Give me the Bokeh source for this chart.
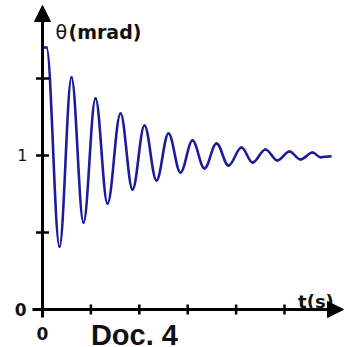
import numpy as np
from bokeh.plotting import figure
from bokeh.models import Arrow, NormalHead, Range1d, ColumnDataSource
from bokeh.core.properties import value
from bokeh.embed import file_html
from bokeh.resources import INLINE

# ---- data (t in tick units, theta in mrad) ----
t_ext = [0.000, 0.083, 0.351, 0.599, 0.847, 1.095, 1.343, 1.612, 1.860, 2.107,
         2.355, 2.603, 2.851, 3.099, 3.347, 3.595, 3.843, 4.112, 4.339, 4.607,
         4.855, 5.103, 5.331, 5.579, 5.744, 5.950]
theta_ext = [1.701, 1.701, 0.409, 1.506, 0.565, 1.370, 0.688, 1.273, 0.779, 1.195,
             0.838, 1.143, 0.890, 1.097, 0.916, 1.078, 0.935, 1.052, 0.955, 1.039,
             0.968, 1.026, 0.974, 1.019, 0.989, 0.994]
x_ticks = [1, 2, 3, 4, 5]
y_ticks = [0.5, 1.0, 1.5]

# ---- figure ----
p = figure(width=355, height=347, output_backend="svg", toolbar_location=None,
           x_axis_type=None, y_axis_type=None, min_border=0, title=None,
           x_range=Range1d(-0.8678, 6.4669), y_range=Range1d(-0.2468, 2.0065))
p.outline_line_color = None
p.grid.visible = False
p.background_fill_color = "white"
p.border_fill_color = "white"

# ---- curve: smooth half-waves between successive extrema ----
t = np.array(t_ext)
th = np.array(theta_ext)
k = 0.3642
dt = t[1:] - t[:-1]
src = ColumnDataSource(dict(
    x0=t[:-1], y0=th[:-1], x1=t[1:], y1=th[1:],
    cx0=t[:-1] + k * dt, cy0=th[:-1], cx1=t[1:] - k * dt, cy1=th[1:]))
p.bezier(x0="x0", y0="y0", x1="x1", y1="y1", cx0="cx0", cy0="cy0",
         cx1="cx1", cy1="cy1", source=src, line_color="#1c1c9a",
         line_width=2.6, line_cap="round")

# ---- axes with arrows ----
AX = "black"
p.add_layout(Arrow(end=NormalHead(size=16, fill_color=AX, line_color=AX, line_width=1),
                   x_start=0, y_start=-0.052, x_end=0, y_end=1.974,
                   line_color=AX, line_width=3))
p.add_layout(Arrow(end=NormalHead(size=16, fill_color=AX, line_color=AX, line_width=1),
                   x_start=-0.207, y_start=0, x_end=6.219, y_end=0,
                   line_color=AX, line_width=3))

# ticks
p.scatter(x=x_ticks, y=[0] * len(x_ticks), marker="dash", angle=np.pi / 2,
          size=10, line_color=AX, line_width=2.5)
p.scatter(x=[0] * len(y_ticks), y=y_ticks, marker="dash", size=13,
          line_color=AX, line_width=2.5)

# tick labels
p.text(x=[0], y=[1.0], text=["1"], x_offset=-15, text_align="right",
       text_baseline="middle", text_font=value("DejaVu Sans"),
       text_font_size="16px", text_color="#111111")
p.text(x=[0], y=[0.0], text=["0"], x_offset=-16, text_align="right",
       text_baseline="middle", text_font=value("DejaVu Sans"),
       text_font_size="17px", text_font_style="bold", text_color="#111111")
p.text(x=[0], y=[0.0], text=["0"], y_offset=24, text_align="center",
       text_baseline="middle", text_font=value("DejaVu Sans"),
       text_font_size="17px", text_font_style="bold", text_color="#111111")

# axis titles
p.text(x=[0], y=[1.799], text=["θ"], x_offset=13, text_align="left",
       text_baseline="alphabetic", text_font=value("DejaVu Sans"),
       text_font_size="19px", text_color="#111111")
p.text(x=[0], y=[1.799], text=["(mrad)"], x_offset=26, text_align="left",
       text_baseline="alphabetic", text_font=value("DejaVu Sans"),
       text_font_size="19px", text_font_style="bold", text_color="#111111")
p.text(x=[5.65], y=[0], text=["t(s)"], y_offset=-8, text_align="center",
       text_baseline="alphabetic", text_font=value("DejaVu Sans"),
       text_font_size="18px", text_font_style="bold", text_color="#111111")

# caption
p.text(x=[1], y=[0], text=["Doc. 4"], y_offset=26, text_align="left",
       text_baseline="alphabetic", text_font=value("Liberation Sans"),
       text_font_size="29px", text_font_style="bold", text_color="#111111")

open("out.html", "w").write(file_html(p, INLINE))
